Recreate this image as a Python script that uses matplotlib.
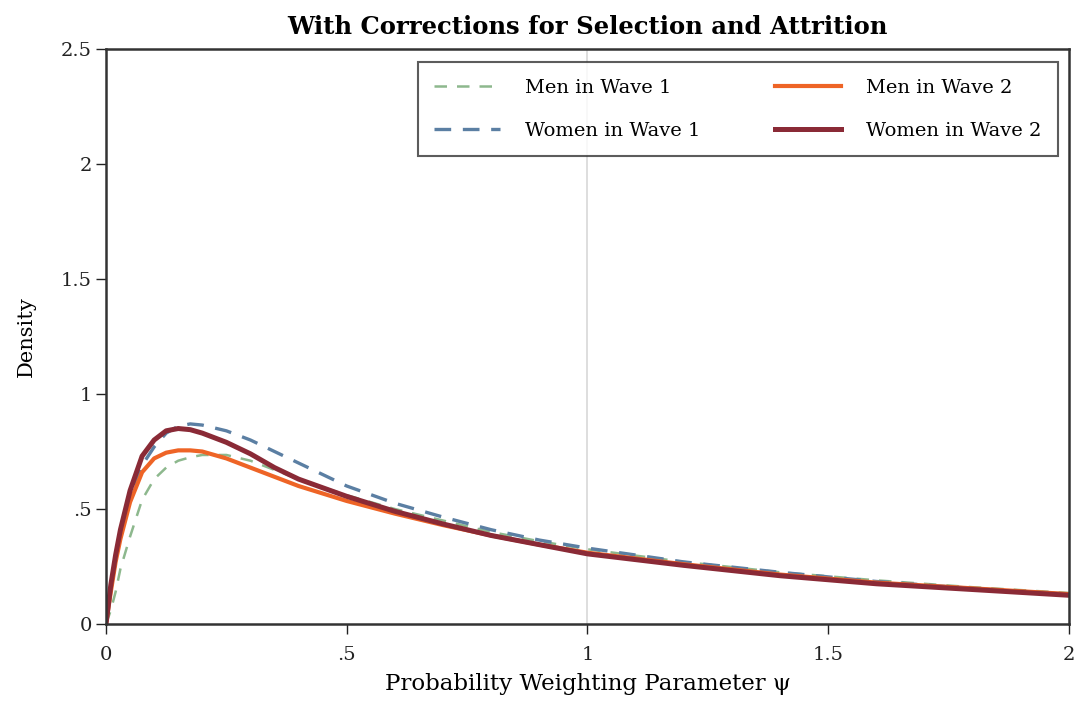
import matplotlib
matplotlib.use("Agg")
import matplotlib.pyplot as plt

# density of the probability weighting parameter, read at these points
psi = [0, 0.01, 0.02, 0.03, 0.05, 0.075, 0.1, 0.125, 0.15, 0.175, 0.2, 0.25, 0.3,
       0.35, 0.4, 0.5, 0.6, 0.7, 0.8, 0.9, 1.0, 1.2, 1.4, 1.6, 1.8, 2.0]

men_w1 = [0, 0.06, 0.14, 0.24, 0.38, 0.54, 0.63, 0.68, 0.71, 0.725, 0.735, 0.735, 0.71,
          0.67, 0.63, 0.56, 0.50, 0.45, 0.40, 0.36, 0.325, 0.27, 0.225, 0.19, 0.16, 0.135]
women_w1 = [0, 0.15, 0.28, 0.38, 0.55, 0.69, 0.77, 0.83, 0.86, 0.87, 0.865, 0.84, 0.80,
            0.75, 0.70, 0.60, 0.525, 0.465, 0.41, 0.365, 0.33, 0.27, 0.225, 0.185, 0.155, 0.13]
men_w2 = [0, 0.14, 0.27, 0.37, 0.53, 0.66, 0.72, 0.745, 0.755, 0.755, 0.75, 0.72, 0.68,
          0.64, 0.60, 0.535, 0.48, 0.43, 0.385, 0.345, 0.31, 0.26, 0.215, 0.18, 0.155, 0.13]
women_w2 = [0, 0.17, 0.30, 0.41, 0.58, 0.73, 0.80, 0.84, 0.85, 0.845, 0.83, 0.79, 0.74,
            0.68, 0.63, 0.555, 0.49, 0.435, 0.385, 0.345, 0.305, 0.255, 0.21, 0.175, 0.15, 0.125]

xticks = [0, 0.5, 1, 1.5, 2]
xtick_labels = ["0", ".5", "1", "1.5", "2"]
yticks = [0, 0.5, 1, 1.5, 2, 2.5]
ytick_labels = ["0", ".5", "1", "1.5", "2", "2.5"]

plt.rcParams["font.family"] = ["DejaVu Serif"]

fig = plt.figure(figsize=(10.76, 7.04), dpi=100)
ax = fig.add_axes([0.0985, 0.1136, 0.895, 0.8168])

ax.axvline(1, color="#d8d8d8", lw=1.2, zorder=0)

ax.plot(psi, men_w1, color="#8db88d", lw=1.8, ls=(0, (5, 4)), label="Men in Wave 1")
ax.plot(psi, women_w1, color="#5b7fa3", lw=2.4, ls=(0, (5, 3.5)), label="Women in Wave 1")
ax.plot(psi, men_w2, color="#ee6426", lw=3.0, label="Men in Wave 2")
ax.plot(psi, women_w2, color="#8a2a36", lw=3.6, label="Women in Wave 2")

ax.set_xlim(0, 2)
ax.set_ylim(0, 2.5)
ax.set_xticks(xticks)
ax.set_xticklabels(xtick_labels)
ax.set_yticks(yticks)
ax.set_yticklabels(ytick_labels)
ax.tick_params(labelsize=14, length=7, width=1, colors="#222222")
ax.tick_params(axis="x", pad=9)
ax.tick_params(axis="y", pad=3)

for s in ax.spines.values():
    s.set_linewidth(1.8)
    s.set_color("#333333")

ax.set_xlabel("Probability Weighting Parameter \u03c8", fontsize=16.5, labelpad=6)
ax.set_ylabel("Density", fontsize=15, labelpad=18)
ax.set_title("With Corrections for Selection and Attrition", fontsize=17.5,
             fontweight="bold", pad=11)

leg = ax.legend(ncol=2, loc="upper right", bbox_to_anchor=(0.9886, 0.9774),
                borderaxespad=0, fontsize=14, frameon=True, fancybox=False,
                handlelength=3.4, columnspacing=3.8, borderpad=0.85,
                labelspacing=1.3, handletextpad=1.3)
leg.get_frame().set_edgecolor("#333333")
leg.get_frame().set_linewidth(1.5)

fig.savefig("out.png", dpi=100, facecolor="white")
